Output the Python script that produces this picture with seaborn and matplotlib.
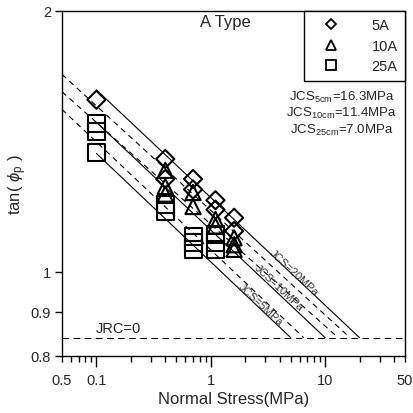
import matplotlib
matplotlib.use("Agg")
import matplotlib.pyplot as plt
import matplotlib.ticker as mticker
import seaborn as sns
import pandas as pd
import numpy as np

sns.set_theme(style="ticks")
plt.rcParams['font.family'] = ['Liberation Sans', 'DejaVu Sans']
plt.rcParams['mathtext.fontset'] = 'custom'
plt.rcParams['mathtext.rm'] = 'Liberation Sans'
plt.rcParams['mathtext.it'] = 'Liberation Sans:italic'

# ---------------- data ----------------
# 5A (diamonds)
x_5A = [0.1, 0.4, 0.4, 0.7, 0.7, 1.1, 1.1, 1.6, 1.6]
y_5A = [1.58, 1.35, 1.28, 1.28, 1.245, 1.21, 1.18, 1.155, 1.115]
# 10A (triangles)
x_10A = [0.4, 0.4, 0.4, 0.7, 0.7, 1.1, 1.1, 1.6, 1.6, 1.6]
y_10A = [1.31, 1.255, 1.23, 1.235, 1.19, 1.15, 1.13, 1.095, 1.075, 1.062]
# 25A (squares)
x_25A = [0.1, 0.1, 0.1, 0.4, 0.4, 0.7, 0.7, 0.7, 1.1, 1.1, 1.1]
y_25A = [1.483, 1.454, 1.372, 1.197, 1.175, 1.10, 1.082, 1.062, 1.105, 1.082, 1.062]

# JCS reference lines (start point, end point on JRC=0 line)
jcs_solid_labels = ["JCS=20MPa", "JCS=10MPa", "JCS=5MPa"]
solid_x0 = [0.1, 0.1, 0.1]
solid_y0 = [1.622, 1.488, 1.370]
solid_x1 = [20.0, 10.0, 5.0]
dashed_x0 = [0.05, 0.05, 0.05]
dashed_y0 = [1.69, 1.614, 1.54]
dashed_x1 = [16.5, 13.0, 6.5]
jrc0 = 0.84
x_range = [0.05, 50]

x_ticks_major = [0.1, 1, 10]
x_tick_labels_major = ["0.1", "1", "10"]
x_edge_ticks = {0.05: "0.5", 50: "50"}
y_ticks = [0.8, 0.9, 1, 2]
y_tick_labels = ["0.8", "0.9", "1", "2"]

# ---------------- figure ----------------
fig = plt.figure(figsize=(4.14, 4.14), dpi=100)
ax = fig.add_axes([62/414, 1-357/414, (405-62)/414, (357-12)/414])
ax.set_xscale('log')
ax.set_yscale('log')
ax.set_xlim(*x_range)
ax.set_ylim(0.8, 2)

lw = 0.8
for x0, y0, x1 in zip(solid_x0, solid_y0, solid_x1):
    d = pd.DataFrame({"x": [x0, x1], "y": [y0, jrc0]})
    sns.lineplot(data=d, x="x", y="y", ax=ax, color="black", lw=lw, sort=False, estimator=None)
for x0, y0, x1 in zip(dashed_x0, dashed_y0, dashed_x1):
    d = pd.DataFrame({"x": [x0, x1], "y": [y0, jrc0]})
    sns.lineplot(data=d, x="x", y="y", ax=ax, color="black", lw=lw, sort=False, estimator=None,
                 linestyle=(0, (5, 4)))
d = pd.DataFrame({"x": x_range, "y": [jrc0, jrc0]})
sns.lineplot(data=d, x="x", y="y", ax=ax, color="black", lw=lw, sort=False, estimator=None,
             linestyle=(0, (6, 4)))

# scatter points
mk = dict(facecolor="none", edgecolor="black", linewidth=1.5, zorder=5)
sns.scatterplot(x=x_5A, y=y_5A, marker="D", s=85, ax=ax, **mk)
sns.scatterplot(x=x_10A, y=y_10A, marker="^", s=120, ax=ax, **mk)
sns.scatterplot(x=x_25A, y=y_25A, marker="s", s=150, ax=ax, **mk)

# legend
from matplotlib.lines import Line2D
handles = [Line2D([], [], ls="none", marker=m, ms=ms, mfc="none", mec="black", mew=1.3)
           for m, ms in [("D", 5), ("^", 6.5), ("s", 7)]]
leg = ax.legend(handles, ["5A", "10A", "25A"], loc="upper right", borderaxespad=0,
                fancybox=False, edgecolor="black", framealpha=1, fontsize=10.5,
                handletextpad=1.5, borderpad=0.5, labelspacing=0.45, handlelength=2.6)
leg.get_frame().set_linewidth(1.0)

# texts
ax.text(0.475, 0.971, "A Type", transform=ax.transAxes, ha="center", va="center", fontsize=12)
ax.text(0.815, 0.752, r"JCS$_{\mathrm{5cm}}$=16.3MPa", transform=ax.transAxes, ha="center", va="center", fontsize=9.5)
ax.text(0.815, 0.705, r"JCS$_{\mathrm{10cm}}$=11.4MPa", transform=ax.transAxes, ha="center", va="center", fontsize=9.5)
ax.text(0.815, 0.658, r"JCS$_{\mathrm{25cm}}$=7.0MPa", transform=ax.transAxes, ha="center", va="center", fontsize=9.5)
ax.text(0.165, 0.081, "JRC=0", transform=ax.transAxes, ha="center", va="center", fontsize=10.5)

# rotated line labels
label_pos = [(5.35, 1.0), (3.95, 0.96), (2.74, 0.918)]
for (lx, ly), t in zip(label_pos, jcs_solid_labels):
    ax.text(lx, ly, t, rotation=-43, ha="center", va="center", fontsize=8, color="#333333",
            rotation_mode="anchor")

# ticks
ax.xaxis.set_major_locator(mticker.FixedLocator(x_ticks_major))
ax.xaxis.set_major_formatter(mticker.FixedFormatter(x_tick_labels_major))
minor = [v * 10.0**e for e in (-2, -1, 0, 1) for v in range(2, 10)]
minor = [m for m in minor if 0.05 <= m <= 50 + 1e-9]
ax.xaxis.set_minor_locator(mticker.FixedLocator(minor))
ax.xaxis.set_minor_formatter(mticker.FuncFormatter(
    lambda v, p: next((lab for k, lab in x_edge_ticks.items() if abs(v - k) / k < 1e-6), "")))
ax.yaxis.set_major_locator(mticker.FixedLocator(y_ticks))
ax.yaxis.set_major_formatter(mticker.FixedFormatter(y_tick_labels))
ax.yaxis.set_minor_locator(mticker.NullLocator())

ax.tick_params(axis="x", which="major", direction="out", length=8, width=1, labelsize=10.5, pad=4, color="black")
ax.tick_params(axis="x", which="minor", direction="out", length=4, width=1, labelsize=10.5, pad=8, color="black")
ax.tick_params(axis="y", which="major", direction="out", length=5, width=1, labelsize=10.5, pad=3, color="black")
for s in ax.spines.values():
    s.set_color("black")
    s.set_linewidth(1.0)

ax.set_xlabel("Normal Stress(MPa)", fontsize=12, labelpad=3)
ax.set_ylabel(r"tan( $\phi_\mathrm{p}$ )", fontsize=12, labelpad=1)

fig.savefig("out.png", dpi=100)
